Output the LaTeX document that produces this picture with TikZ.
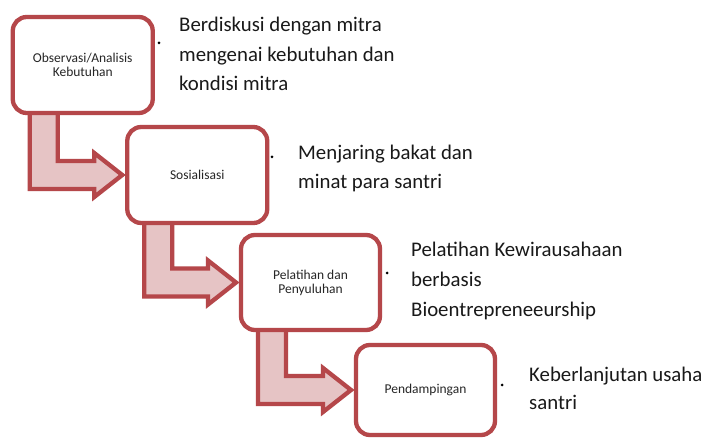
\documentclass[tikz,border=0pt]{standalone}
\usepackage{fontspec}
\setmainfont{Carlito}
\usetikzlibrary{calc,backgrounds}
\definecolor{bord}{HTML}{B5474A}
\definecolor{afill}{HTML}{E6C4C5}
\newcommand\bentarrow[2]{%
  \draw[bent] let \p1=(#1.south west), \p2=(#2.west) in
    (\x1+17,\y1+3) -- (\x1+17,\y2-14) -- (\x2-33,\y2-14) -- (\x2-33,\y2-22)
    -- (\x2-5,\y2) -- (\x2-33,\y2+22) -- (\x2-33,\y2+14) -- (\x1+45,\y2+14)
    -- (\x1+45,\y1+3) -- cycle;}
\begin{document}
\begin{tikzpicture}[x=1pt,y=-1pt,
  box/.style={draw=bord, line width=4.3pt, rounded corners=14pt, fill=white,
    minimum width=140pt, minimum height=96pt, inner sep=0pt, outer sep=0pt,
    align=center, font=\fontsize{13.5}{14}\selectfont, text=black!85},
  bent/.style={draw=bord, line width=4.3pt, fill=afill, line join=miter},
  desc/.style={anchor=base west, inner sep=0pt, font=\fontsize{20.8}{24}\selectfont, text=black!90},
  bullet/.style={circle, fill=black, inner sep=0pt, minimum size=3pt}]
\useasboundingbox (0,0) rectangle (705,438);
% boxes
\node[box] (b1) at (82.75,65) {Observasi/Analisis\\Kebutuhan};
\node[box] (b2) at (197.25,175) {Sosialisasi};
\node[box, minimum width=139pt, minimum height=95pt] (b3) at (310.5,282.5) {Pelatihan dan\\Penyuluhan};
\node[box, minimum width=139pt, minimum height=90pt] (b4) at (425.5,390) {Pendampingan};
% arrows (behind boxes)
\begin{pgfonlayer}{background}
  \fill[white] (0,0) rectangle (705,438);
  \bentarrow{b1}{b2}
  \bentarrow{b2}{b3}
  \bentarrow{b3}{b4}
\end{pgfonlayer}
% bullets
\node[bullet] (d1) at (159,43) {};
\node[bullet] (d2) at (272,157) {};
\node[bullet] (d3) at (387,273) {};
\node[bullet] (d4) at (502,385) {};
% descriptions
\node[desc] (t1a) at (179,32) {Berdiskusi dengan mitra};
\node[desc] (t1b) at (179,62) {mengenai kebutuhan dan};
\node[desc] (t1c) at (179,91) {kondisi mitra};
\node[desc] (t2a) at (298,159.5) {Menjaring bakat dan};
\node[desc] (t2b) at (298,188.5) {minat para santri};
\node[desc] (t3a) at (411,256.7) {Pelatihan Kewirausahaan};
\node[desc] (t3b) at (411,286.7) {berbasis};
\node[desc] (t3c) at (411,316.7) {Bioentrepreneeurship};
\node[desc] (t4a) at (529,381.7) {Keberlanjutan usaha};
\node[desc] (t4b) at (529,410) {santri};
\end{tikzpicture}
\end{document}
